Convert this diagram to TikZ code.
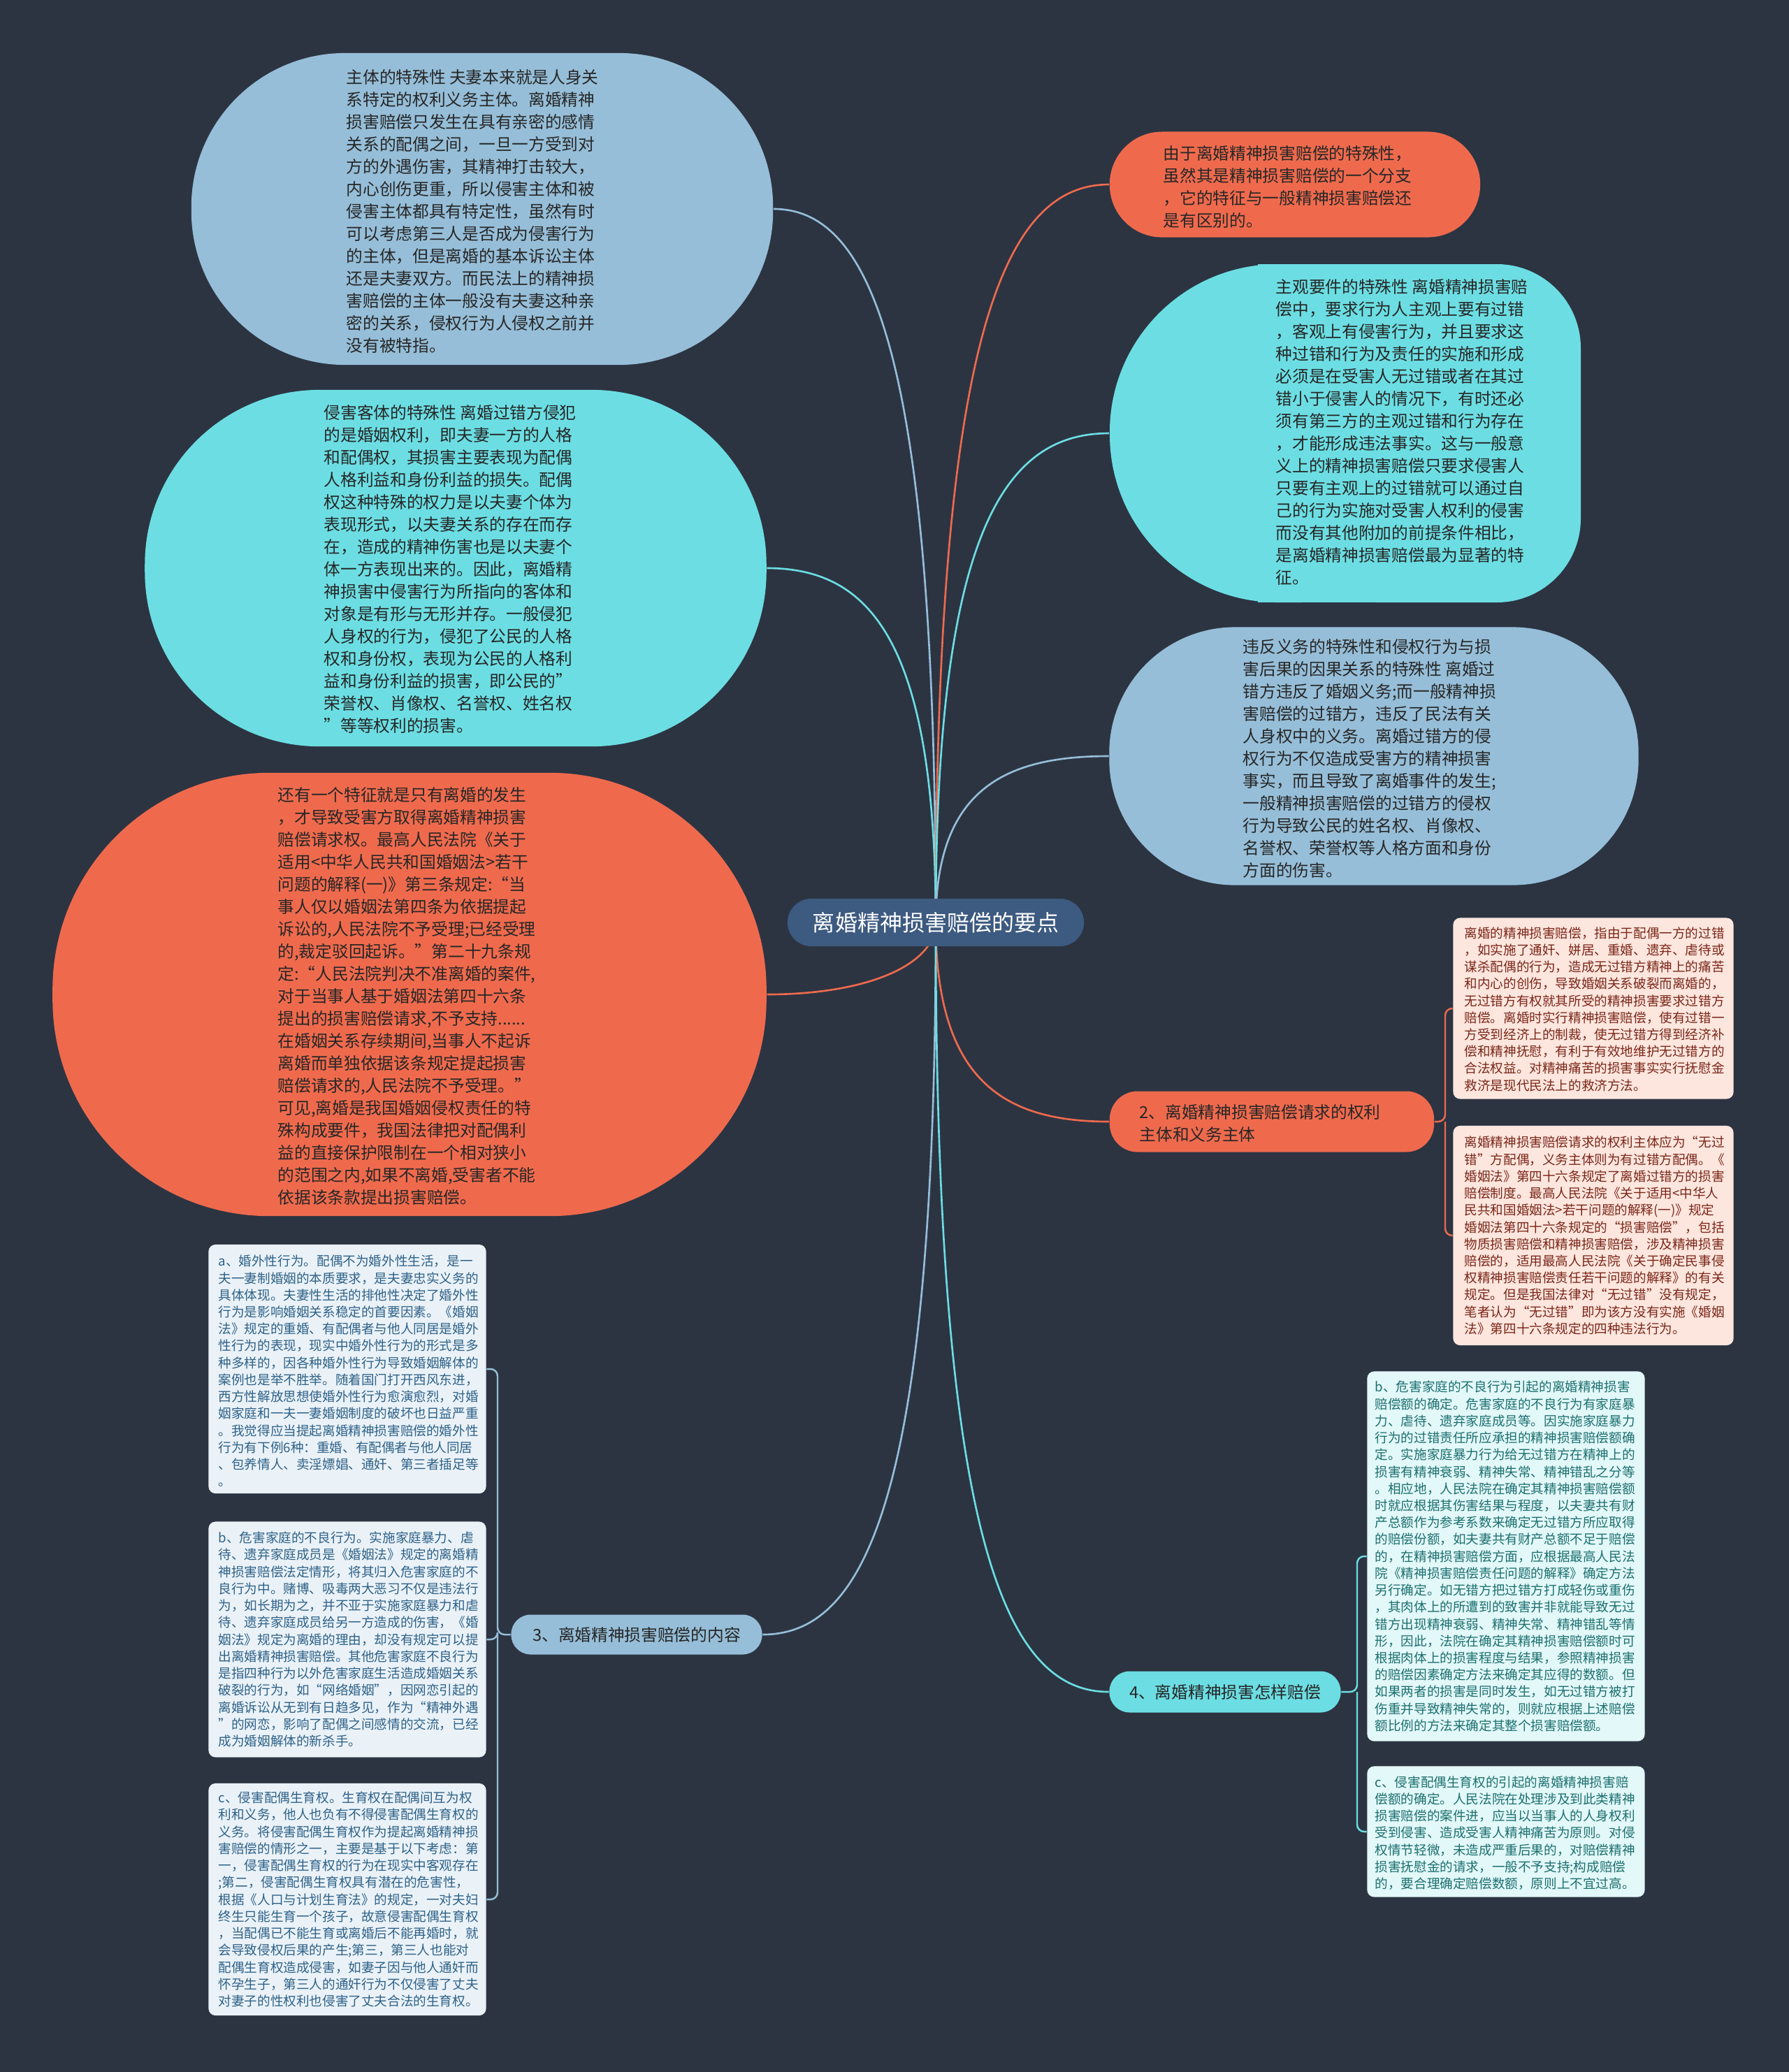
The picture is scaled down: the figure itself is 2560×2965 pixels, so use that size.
\documentclass[tikz,border=0pt]{standalone}
\usepackage{fontspec}
\setmainfont{Noto Sans CJK SC}
\definecolor{cbg}{HTML}{2C3442}
\definecolor{cblue}{HTML}{96BED8}
\definecolor{ccyan}{HTML}{6CDEE3}
\definecolor{corange}{HTML}{EF6A4D}
\definecolor{croot}{HTML}{3D5A80}
\definecolor{cpink}{HTML}{FDE6DE}
\definecolor{cpinktxt}{HTML}{7A2618}
\definecolor{clb}{HTML}{EAF2F8}
\definecolor{clbtxt}{HTML}{2E6187}
\definecolor{clc}{HTML}{E3F8F8}
\definecolor{clctxt}{HTML}{1C6F70}
\definecolor{cdark}{HTML}{262626}
\newcommand\txtL{\fontsize{6.74pt}{9.1pt}\selectfont}
\newcommand\txtS{\fontsize{5.29pt}{6.89pt}\selectfont}
\newcommand\txtR{\fontsize{9.1pt}{11pt}\selectfont}
\pgfdeclarelayer{bglayer}
\pgfdeclarelayer{linelayer}
\pgfsetlayers{bglayer,linelayer,main}
\begin{document}
\begin{tikzpicture}[x=0.01cm,y=-0.01cm,
  blob/.style={draw=none,inner sep=0pt,rounded corners=#1},
  bigtext/.style={inner sep=0pt,align=left,anchor=west,font=\txtL,text=cdark},
  smalltext/.style={inner sep=0pt,align=left,anchor=west,font=\txtS},
  smallbox/.style={draw=none,inner sep=0pt,rounded corners=0.1cm},
  conn/.style={line width=0.75pt},
  brk/.style={line width=0.7pt,rounded corners=0.1cm}]
\begin{pgfonlayer}{bglayer}
\fill[cbg] (0,0) rectangle (2560,2965);
\end{pgfonlayer}
\useasboundingbox (0,0) rectangle (2560,2965);

% root
\node[fill=croot,rounded corners=0.34cm,minimum width=4.24cm,minimum height=0.68cm,inner sep=0pt,text=white,font=\txtR] (c) at (1339,1320) {离婚精神损害赔偿的要点};

% left big shapes
\node[blob=2.2cm,fill=cblue,minimum width=8.32cm,minimum height=4.46cm] (e1) at (690,299) {};
\node[bigtext] (e1t) at (495,302) {主体的特殊性 夫妻本来就是人身关\\
系特定的权利义务主体。离婚精神\\
损害赔偿只发生在具有亲密的感情\\
关系的配偶之间，一旦一方受到对\\
方的外遇伤害，其精神打击较大，\\
内心创伤更重，所以侵害主体和被\\
侵害主体都具有特定性，虽然有时\\
可以考虑第三人是否成为侵害行为\\
的主体，但是离婚的基本诉讼主体\\
还是夫妻双方。而民法上的精神损\\
害赔偿的主体一般没有夫妻这种亲\\
密的关系，侵权行为人侵权之前并\\
没有被特指。};

\node[blob=2.5cm,fill=ccyan,minimum width=8.89cm,minimum height=5.1cm] (e2) at (652,813) {};
\node[bigtext] (e2t) at (463,814) {侵害客体的特殊性 离婚过错方侵犯\\
的是婚姻权利，即夫妻一方的人格\\
和配偶权，其损害主要表现为配偶\\
人格利益和身份利益的损失。配偶\\
权这种特殊的权力是以夫妻个体为\\
表现形式，以夫妻关系的存在而存\\
在，造成的精神伤害也是以夫妻个\\
体一方表现出来的。因此，离婚精\\
神损害中侵害行为所指向的客体和\\
对象是有形与无形并存。一般侵犯\\
人身权的行为，侵犯了公民的人格\\
权和身份权，表现为公民的人格利\\
益和身份利益的损害，即公民的”\\
荣誉权、肖像权、名誉权、姓名权\\
”等等权利的损害。};

\node[blob=3.1cm,fill=corange,minimum width=10.21cm,minimum height=6.34cm] (e3) at (586,1423) {};
\node[bigtext] (e3t) at (397,1425) {还有一个特征就是只有离婚的发生\\
，才导致受害方取得离婚精神损害\\
赔偿请求权。最高人民法院《关于\\
适用<中华人民共和国婚姻法>若干\\
问题的解释(一)》第三条规定:“当\\
事人仅以婚姻法第四条为依据提起\\
诉讼的,人民法院不予受理;已经受理\\
的,裁定驳回起诉。”第二十九条规\\
定:“人民法院判决不准离婚的案件,\\
对于当事人基于婚姻法第四十六条\\
提出的损害赔偿请求,不予支持......\\
在婚姻关系存续期间,当事人不起诉\\
离婚而单独依据该条规定提起损害\\
赔偿请求的,人民法院不予受理。”\\
可见,离婚是我国婚姻侵权责任的特\\
殊构成要件，我国法律把对配偶利\\
益的直接保护限制在一个相对狭小\\
的范围之内,如果不离婚,受害者不能\\
依据该条款提出损害赔偿。};

% right big shapes
\node[blob=0.75cm,fill=corange,minimum width=5.3cm,minimum height=1.51cm] (r1) at (1853,264) {};
\node[bigtext] (r1t) at (1664,267) {由于离婚精神损害赔偿的特殊性，\\
虽然其是精神损害赔偿的一个分支\\
，它的特征与一般精神损害赔偿还\\
是有区别的。};

\node[inner sep=0pt,minimum width=6.74cm,minimum height=4.84cm] (r2) at (1925,620) {};
\fill[ccyan,rounded corners=2.4cm] (1588,378) rectangle (2100,862);
\fill[ccyan,rounded corners=1.2cm] (1850,378) rectangle (2262,862);
\fill[ccyan] (1800,378) rectangle (2150,862);
\node[bigtext] (r2t) at (1825,618) {主观要件的特殊性 离婚精神损害赔\\
偿中，要求行为人主观上要有过错\\
，客观上有侵害行为，并且要求这\\
种过错和行为及责任的实施和形成\\
必须是在受害人无过错或者在其过\\
错小于侵害人的情况下，有时还必\\
须有第三方的主观过错和行为存在\\
，才能形成违法事实。这与一般意\\
义上的精神损害赔偿只要求侵害人\\
只要有主观上的过错就可以通过自\\
己的行为实施对受害人权利的侵害\\
而没有其他附加的前提条件相比，\\
是离婚精神损害赔偿最为显著的特\\
征。};

\node[blob=1.8cm,fill=cblue,minimum width=7.57cm,minimum height=3.69cm] (r3) at (1966,1082) {};
\node[bigtext] (r3t) at (1778,1085) {违反义务的特殊性和侵权行为与损\\
害后果的因果关系的特殊性 离婚过\\
错方违反了婚姻义务;而一般精神损\\
害赔偿的过错方，违反了民法有关\\
人身权中的义务。离婚过错方的侵\\
权行为不仅造成受害方的精神损害\\
事实，而且导致了离婚事件的发生;\\
一般精神损害赔偿的过错方的侵权\\
行为导致公民的姓名权、肖像权、\\
名誉权、荣誉权等人格方面和身份\\
方面的伤害。};

% branch 2
\node[blob=0.4cm,fill=corange,minimum width=4.64cm,minimum height=0.87cm] (n2) at (1820,1605) {};
\node[bigtext] (n2t) at (1630,1607) {2、离婚精神损害赔偿请求的权利\\
主体和义务主体};

\node[smallbox,fill=cpink,minimum width=4.01cm,minimum height=2.59cm] (pb1) at (2280,1443) {};
\node[smalltext,text=cpinktxt] (pb1t) at (2095,1444) {离婚的精神损害赔偿，指由于配偶一方的过错\\
，如实施了通奸、姘居、重婚、遗弃、虐待或\\
谋杀配偶的行为，造成无过错方精神上的痛苦\\
和内心的创伤，导致婚姻关系破裂而离婚的，\\
无过错方有权就其所受的精神损害要求过错方\\
赔偿。离婚时实行精神损害赔偿，使有过错一\\
方受到经济上的制裁，使无过错方得到经济补\\
偿和精神抚慰，有利于有效地维护无过错方的\\
合法权益。对精神痛苦的损害事实实行抚慰金\\
救济是现代民法上的救济方法。};

\node[smallbox,fill=cpink,minimum width=4.01cm,minimum height=3.14cm] (pb2) at (2280,1768) {};
\node[smalltext,text=cpinktxt] (pb2t) at (2095,1768) {离婚精神损害赔偿请求的权利主体应为“无过\\
错”方配偶，义务主体则为有过错方配偶。《\\
婚姻法》第四十六条规定了离婚过错方的损害\\
赔偿制度。最高人民法院《关于适用<中华人\\
民共和国婚姻法>若干问题的解释(一)》规定\\
婚姻法第四十六条规定的“损害赔偿”，包括\\
物质损害赔偿和精神损害赔偿，涉及精神损害\\
赔偿的，适用最高人民法院《关于确定民事侵\\
权精神损害赔偿责任若干问题的解释》的有关\\
规定。但是我国法律对“无过错”没有规定，\\
笔者认为“无过错”即为该方没有实施《婚姻\\
法》第四十六条规定的四种违法行为。};

% branch 3
\node[blob=0.28cm,fill=cblue,minimum width=3.59cm,minimum height=0.57cm,font=\txtL,text=cdark] (n3) at (911,2339) {3、离婚精神损害赔偿的内容};

\node[smallbox,fill=clb,minimum width=3.97cm,minimum height=3.56cm] (la) at (497,1959) {};
\node[smalltext,text=clbtxt] (lat) at (312,1962) {a、婚外性行为。配偶不为婚外性生活，是一\\
夫一妻制婚姻的本质要求，是夫妻忠实义务的\\
具体体现。夫妻性生活的排他性决定了婚外性\\
行为是影响婚姻关系稳定的首要因素。《婚姻\\
法》规定的重婚、有配偶者与他人同居是婚外\\
性行为的表现，现实中婚外性行为的形式是多\\
种多样的，因各种婚外性行为导致婚姻解体的\\
案例也是举不胜举。随着国门打开西风东进，\\
西方性解放思想使婚外性行为愈演愈烈，对婚\\
姻家庭和一夫一妻婚姻制度的破坏也日益严重\\
。我觉得应当提起离婚精神损害赔偿的婚外性\\
行为有下例6种：重婚、有配偶者与他人同居\\
、包养情人、卖淫嫖娼、通奸、第三者插足等\\
。};

\node[smallbox,fill=clb,minimum width=3.97cm,minimum height=3.37cm] (lb) at (497,2346) {};
\node[smalltext,text=clbtxt] (lbt) at (312,2346) {b、危害家庭的不良行为。实施家庭暴力、虐\\
待、遗弃家庭成员是《婚姻法》规定的离婚精\\
神损害赔偿法定情形，将其归入危害家庭的不\\
良行为中。赌博、吸毒两大恶习不仅是违法行\\
为，如长期为之，并不亚于实施家庭暴力和虐\\
待、遗弃家庭成员给另一方造成的伤害，《婚\\
姻法》规定为离婚的理由，却没有规定可以提\\
出离婚精神损害赔偿。其他危害家庭不良行为\\
是指四种行为以外危害家庭生活造成婚姻关系\\
破裂的行为，如“网络婚姻”，因网恋引起的\\
离婚诉讼从无到有日趋多见，作为“精神外遇\\
”的网恋，影响了配偶之间感情的交流，已经\\
成为婚姻解体的新杀手。};

\node[smallbox,fill=clb,minimum width=3.97cm,minimum height=3.32cm] (lc) at (497,2718) {};
\node[smalltext,text=clbtxt] (lct) at (312,2718) {c、侵害配偶生育权。生育权在配偶间互为权\\
利和义务，他人也负有不得侵害配偶生育权的\\
义务。将侵害配偶生育权作为提起离婚精神损\\
害赔偿的情形之一，主要是基于以下考虑：第\\
一，侵害配偶生育权的行为在现实中客观存在\\
;第二，侵害配偶生育权具有潜在的危害性，\\
根据《人口与计划生育法》的规定，一对夫妇\\
终生只能生育一个孩子，故意侵害配偶生育权\\
，当配偶已不能生育或离婚后不能再婚时，就\\
会导致侵权后果的产生;第三，第三人也能对\\
配偶生育权造成侵害，如妻子因与他人通奸而\\
怀孕生子，第三人的通奸行为不仅侵害了丈夫\\
对妻子的性权利也侵害了丈夫合法的生育权。};

% branch 4
\node[blob=0.29cm,fill=ccyan,minimum width=3.31cm,minimum height=0.59cm,font=\txtL,text=cdark] (n4) at (1753,2421) {4、离婚精神损害怎样赔偿};

\node[smallbox,fill=clc,minimum width=3.97cm,minimum height=5.29cm] (rb) at (2155,2227) {};
\node[smalltext,text=clctxt] (rbt) at (1967,2227) {b、危害家庭的不良行为引起的离婚精神损害\\
赔偿额的确定。危害家庭的不良行为有家庭暴\\
力、虐待、遗弃家庭成员等。因实施家庭暴力\\
行为的过错责任所应承担的精神损害赔偿额确\\
定。实施家庭暴力行为给无过错方在精神上的\\
损害有精神衰弱、精神失常、精神错乱之分等\\
。相应地，人民法院在确定其精神损害赔偿额\\
时就应根据其伤害结果与程度，以夫妻共有财\\
产总额作为参考系数来确定无过错方所应取得\\
的赔偿份额，如夫妻共有财产总额不足于赔偿\\
的，在精神损害赔偿方面，应根据最高人民法\\
院《精神损害赔偿责任问题的解释》确定方法\\
另行确定。如无错方把过错方打成轻伤或重伤\\
，其肉体上的所遭到的致害并非就能导致无过\\
错方出现精神衰弱、精神失常、精神错乱等情\\
形，因此，法院在确定其精神损害赔偿额时可\\
根据肉体上的损害程度与结果，参照精神损害\\
的赔偿因素确定方法来确定其应得的数额。但\\
如果两者的损害是同时发生，如无过错方被打\\
伤重并导致精神失常的，则就应根据上述赔偿\\
额比例的方法来确定其整个损害赔偿额。};

\node[smallbox,fill=clc,minimum width=3.97cm,minimum height=1.87cm] (rc) at (2155,2621) {};
\node[smalltext,text=clctxt] (rct) at (1967,2623) {c、侵害配偶生育权的引起的离婚精神损害赔\\
偿额的确定。人民法院在处理涉及到此类精神\\
损害赔偿的案件进，应当以当事人的人身权利\\
受到侵害、造成受害人精神痛苦为原则。对侵\\
权情节轻微，未造成严重后果的，对赔偿精神\\
损害抚慰金的请求，一般不予支持;构成赔偿\\
的，要合理确定赔偿数额，原则上不宜过高。};

\coordinate (b2) at (2068,1605);
\coordinate (b3) at (712,2339);
\coordinate (b4) at (1942,2421);

\begin{pgfonlayer}{linelayer}
\draw[conn,cblue] (c.center) to[out=90,in=0,out distance=8.1cm,in distance=1.4cm] (e1.east);
\draw[conn,ccyan] (c.center) to[out=90,in=0,out distance=4.06cm,in distance=1.45cm] (e2.east);
\draw[conn,corange] (c.center) to[out=-90,in=0,out distance=0.6cm,in distance=1.45cm] (e3.east);
\draw[conn,corange] (c.center) to[out=90,in=180,out distance=8.45cm,in distance=1.49cm] (r1.west);
\draw[conn,ccyan] (c.center) to[out=90,in=180,out distance=5.6cm,in distance=1.49cm] (r2.west);
\draw[conn,cblue] (c.center) to[out=90,in=180,out distance=1.9cm,in distance=1.49cm] (r3.west);
\draw[conn,corange] (c.center) to[out=-90,in=180,out distance=2.28cm,in distance=1.49cm] (n2.west);
\draw[conn,cblue] (c.center) to[out=-90,in=0,out distance=8.16cm,in distance=1.49cm] (n3.east);
\draw[conn,ccyan] (c.center) to[out=-90,in=180,out distance=8.8cm,in distance=1.49cm] (n4.west);
\draw[brk,corange] (n2.east) -- (b2) |- (pb1.west);
\draw[brk,corange] (b2) |- (pb2.west);
\draw[brk,cblue] (n3.west) -- (b3) |- (la.east);
\draw[brk,cblue] (b3) |- (lb.east);
\draw[brk,cblue] (b3) |- (lc.east);
\draw[brk,ccyan] (n4.east) -- (b4) |- (rb.west);
\draw[brk,ccyan] (b4) |- (rc.west);
\end{pgfonlayer}
\end{tikzpicture}
\end{document}
